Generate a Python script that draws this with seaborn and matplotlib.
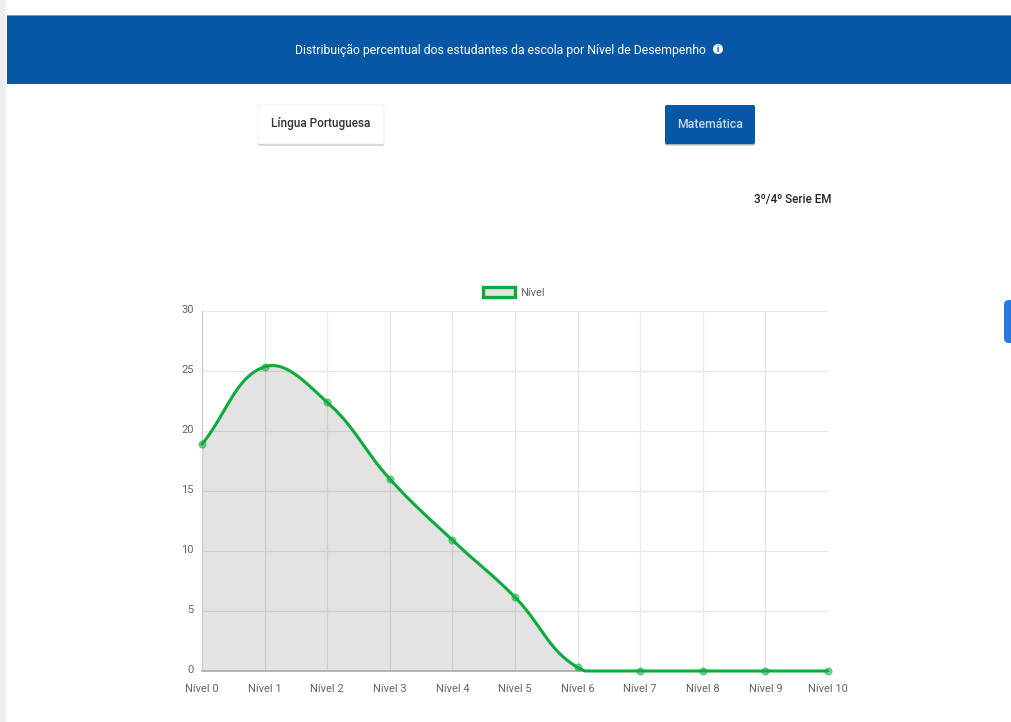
import numpy as np
import pandas as pd
import matplotlib
matplotlib.use("Agg")
import matplotlib.pyplot as plt
from matplotlib.patches import FancyBboxPatch, Rectangle, Circle, Patch
from matplotlib.transforms import ScaledTranslation
import seaborn as sns

levels = ["Nível 0", "Nível 1", "Nível 2", "Nível 3", "Nível 4", "Nível 5",
          "Nível 6", "Nível 7", "Nível 8", "Nível 9", "Nível 10"]
values = [18.9, 25.35, 22.4, 16.0, 10.9, 6.15, 0.3, 0, 0, 0, 0]
y_ticks = [0, 5, 10, 15, 20, 25, 30]
series_name = "Nível"
banner_text = "Distribuição percentual dos estudantes da escola por Nível de Desempenho"
button_left = "Língua Portuguesa"
button_right = "Matemática"
grade_text = "3º/4º Serie EM"

W, H = 1011, 722
BLUE = "#0658A6"
GREEN = "#0BAC3C"

sns.set_theme(style="white")
plt.rcParams["font.family"] = ["Roboto", "DejaVu Sans"]

fig = plt.figure(figsize=(W / 100, H / 100), dpi=100, facecolor="white")


def px_rect(x0, y0, x1, y1, **kw):
    fig.add_artist(Rectangle((x0 / W, 1 - y1 / H), (x1 - x0) / W, (y1 - y0) / H,
                             transform=fig.transFigure, **kw))


def px_round(x0, y0, x1, y1, r, **kw):
    fig.add_artist(FancyBboxPatch((x0 + r, H - y1 + r), x1 - x0 - 2 * r, y1 - y0 - 2 * r,
                                  boxstyle=f"round,pad={r},rounding_size={r}",
                                  transform=None, **kw))


def px_text(x, y, s, **kw):
    fig.text(x / W, 1 - y / H, s, va="center", **kw)


# page furniture
px_rect(0, 0, 5, H, fc="#EDEDED", ec="none")
px_rect(5, 0, 7, H, fc="#F7F7F7", ec="none")
px_rect(7, 0, W, 16, fc="white", ec="none")
px_rect(7, 15, W, 16, fc="#6F9BC9", ec="none")
px_rect(7, 16, W, 84, fc=BLUE, ec="none")
px_text(500.5, 50, banner_text, color="white", fontsize=8.85, ha="center")
fig.add_artist(Circle((718, H - 49), 5, transform=None, fc="white", ec="none"))
px_text(718, 49, "i", color=BLUE, fontsize=6.5, ha="center", fontweight="bold")

px_round(258, 106, 384, 145.5, 2, fc="#B8B8B8", ec="none")
px_round(258, 105, 384, 144, 2, fc="white", ec="#F1F1F1", lw=0.8)
px_text(321, 124, button_left, color="#333333", fontsize=8.5, ha="center", fontweight="medium")
px_round(665, 106, 755, 145.5, 2, fc="#A9B8C8", ec="none")
px_round(665, 105, 755, 144, 2, fc=BLUE, ec="none")
px_text(710, 124, button_right, color="#C9D8E8", fontsize=8.8, ha="center", fontweight="medium")
px_text(792.5, 200, grade_text, color="#222222", fontsize=8.4, ha="center", fontweight="medium")
px_round(1004, 300, 1016, 343, 5, fc="#2C76E0", ec="none")

# chart
ax = fig.add_axes([202 / W, 1 - 671 / H, (828 - 202) / W, (671 - 311) / H])
ax.set_xlim(0, len(levels) - 1)
ax.set_ylim(0, 30)
ax.set_xticks(range(len(levels)), levels)
ax.set_yticks(y_ticks)
ax.grid(True, color="#E8E8E8", lw=0.9)
ax.set_axisbelow(True)
for name, spine in ax.spines.items():
    spine.set_visible(name in ("left", "bottom"))
ax.spines["left"].set_color("#D0D0D0")
ax.spines["left"].set_linewidth(1)
ax.spines["bottom"].set_color("#B0B0B0")
ax.spines["bottom"].set_linewidth(1.3)
ax.tick_params(axis="x", length=5.5, width=0.9, color="#E8E8E8", labelsize=8, labelcolor="#666666", pad=3.9)
ax.tick_params(axis="y", length=4.5, width=0.9, color="#EEEEEE", labelsize=8, labelcolor="#666666", pad=1.5)
ax.yaxis.get_major_ticks()[0].tick1line.set_color("#B0B0B0")
for label in ax.get_yticklabels():
    label.set_transform(label.get_transform() + ScaledTranslation(0, 1.5 / 72, fig.dpi_scale_trans))
fig.canvas.draw()

# Chart.js-style bezier spline (tension 0.4), computed in display space
xs = np.arange(len(values), dtype=float)
pts = ax.transData.transform(np.column_stack([xs, values]))
n = len(pts)
tension = 0.4


def ctrl(j):
    prev = pts[max(j - 1, 0)]
    cur = pts[j]
    nxt = pts[min(j + 1, n - 1)]
    d01 = np.hypot(*(cur - prev))
    d12 = np.hypot(*(nxt - cur))
    total = d01 + d12
    s01 = d01 / total if total else 0
    s12 = d12 / total if total else 0
    return (cur - tension * s01 * (nxt - prev), cur + tension * s12 * (nxt - prev))


curve = []
for i in range(n - 1):
    p0 = pts[i]
    p3 = pts[i + 1]
    c1 = ctrl(i)[1]
    c2 = ctrl(i + 1)[0]
    t = np.linspace(0, 1, 40)[:, None]
    seg = (1 - t) ** 3 * p0 + 3 * (1 - t) ** 2 * t * c1 + 3 * (1 - t) * t ** 2 * c2 + t ** 3 * p3
    curve.append(seg if i == 0 else seg[1:])
curve = ax.transData.inverted().transform(np.vstack(curve))
curve[:, 1] = np.clip(curve[:, 1], 0, None)

smooth = pd.DataFrame({"x": curve[:, 0], "y": curve[:, 1]})
points = pd.DataFrame({"x": xs, "y": values})

ax.fill_between(smooth["x"], smooth["y"], 0, color="black", alpha=0.11, lw=0, zorder=2)
sns.lineplot(data=smooth, x="x", y="y", ax=ax, sort=False, estimator=None,
             color=GREEN, lw=2.2, zorder=4, clip_on=False)
sns.scatterplot(data=points, x="x", y="y", ax=ax, s=24, color=GREEN, alpha=0.5,
                edgecolor=GREEN, linewidth=1, zorder=5, clip_on=False)
ax.set_xlabel("")
ax.set_ylabel("")
ax.set_xlim(0, len(levels) - 1)
ax.set_ylim(0, 30)

handle = Patch(facecolor="#E3E3E3", edgecolor=GREEN, linewidth=2.4, label=series_name)
fig.legend(handles=[handle], loc="center", bbox_to_anchor=(513.5 / W, 1 - 292.5 / H),
           frameon=False, fontsize=8, labelcolor="#666666",
           handlelength=2.9, handleheight=1.0, handletextpad=0.45, borderpad=0)

fig.savefig("out.png", dpi=100)
